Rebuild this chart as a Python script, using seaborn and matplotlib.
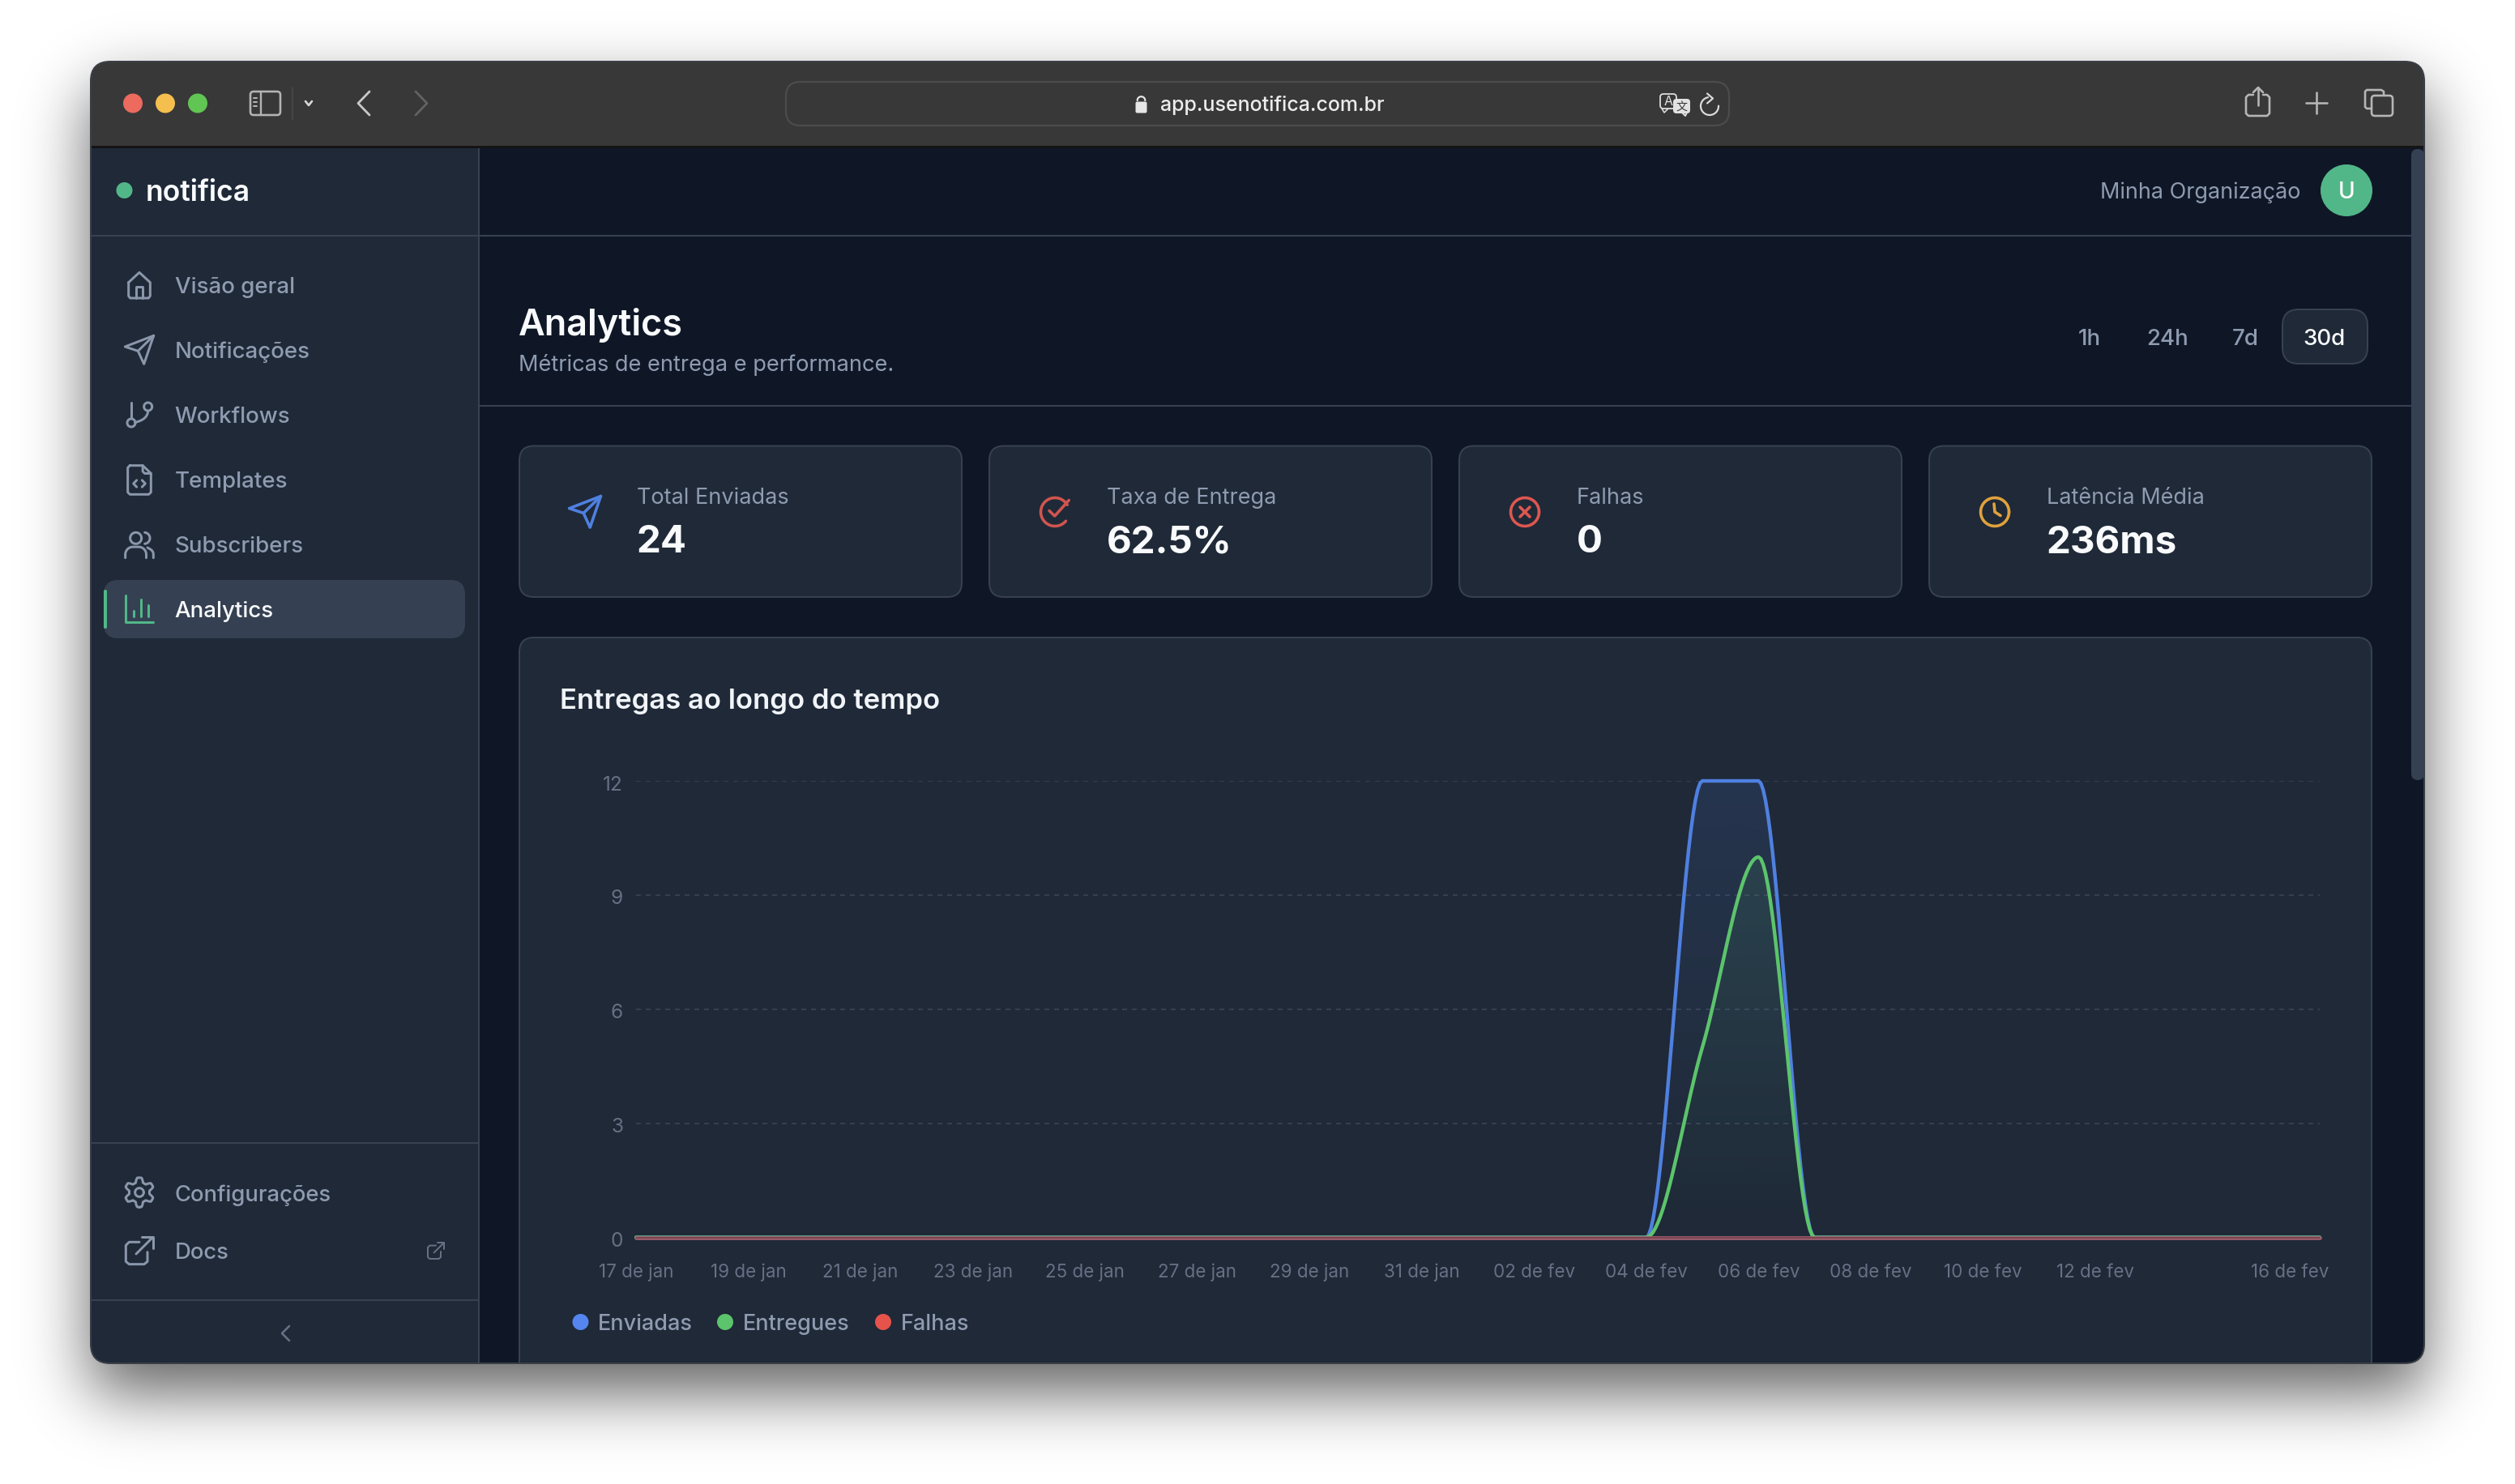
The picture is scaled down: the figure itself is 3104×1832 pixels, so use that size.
import math
import numpy as np
import pandas as pd
import seaborn as sns
import matplotlib
matplotlib.use("Agg")
import matplotlib.pyplot as plt
import matplotlib.patheffects as pe
from matplotlib.patches import FancyBboxPatch, Rectangle, Circle
from matplotlib.transforms import ScaledTranslation

# ---------- data ----------
dias = ["17 de jan","18 de jan","19 de jan","20 de jan","21 de jan","22 de jan","23 de jan","24 de jan",
        "25 de jan","26 de jan","27 de jan","28 de jan","29 de jan","30 de jan","31 de jan","01 de fev",
        "02 de fev","03 de fev","04 de fev","05 de fev","06 de fev","07 de fev","08 de fev","09 de fev",
        "10 de fev","11 de fev","12 de fev","13 de fev","14 de fev","15 de fev","16 de fev"]
enviadas  = [0]*18 + [0, 12, 12, 0] + [0]*9
entregues = [0]*18 + [0, 5, 10, 0] + [0]*9
falhas    = [0]*31
dias_rotulados = [0,2,4,6,8,10,12,14,16,18,20,22,24,26,30]
y_ticks = [0, 3, 6, 9, 12]
nav_items = ["Visão geral","Notificações","Workflows","Templates","Subscribers","Analytics"]
stat_labels = ["Total Enviadas","Taxa de Entrega","Falhas","Latência Média"]
stat_values = ["24","62.5%","0","236ms"]
ranges = ["1h","24h","7d","30d"]
legend_names = ["Enviadas","Entregues","Falhas"]

C_BLUE, C_GREEN, C_RED = "#4f80e0", "#5cc46c", "#e5534b"
SIDEBAR, MAIN, BORDER = "#1f2937", "#0f1727", "#374151"
MUTED, DIM = "#8e9bb0", "#667085"

sns.set_theme(style="dark")
plt.rcParams["font.family"] = ["Inter", "Noto Sans CJK SC", "DejaVu Sans"]
W, H = 3104, 1832
fig = plt.figure(figsize=(W/100, H/100), dpi=100, facecolor="white")
bg = fig.add_axes([0, 0, 1, 1], zorder=0)
bg.set_xlim(0, W); bg.set_ylim(H, 0); bg.axis("off")

PX = 0.72
# ---------- helpers ----------
def T(x, yc, s, px, color=MUTED, weight="normal", ha="left", **kw):
    return bg.text(x, yc + 0.36*px, s, fontsize=px*PX, color=color, fontweight=weight,
                   ha=ha, va="baseline", zorder=kw.pop("zorder", 6), **kw)

def L(pts, color, lw, closed=False, z=6, clip=None):
    pts = list(pts)
    if closed:
        pts = pts + [pts[0]]
    xs, ys = zip(*pts)
    ln, = bg.plot(xs, ys, color=color, lw=lw*PX, solid_capstyle="round",
                  solid_joinstyle="round", zorder=z)
    if clip is not None:
        ln.set_clip_path(clip)
    return ln

def arc(cx, cy, r, a0, a1, n=48):
    return [(cx + r*math.cos(math.radians(a)), cy + r*math.sin(math.radians(a)))
            for a in np.linspace(a0, a1, n)]

def rbox(x0, y0, x1, y1, r, fc, ec="none", lw=0, z=3, clip=None):
    p = FancyBboxPatch((x0+r, y0+r), x1-x0-2*r, y1-y0-2*r, boxstyle=f"round,pad={r},rounding_size={r}",
                       fc=fc, ec=ec, lw=lw*PX, zorder=z)
    bg.add_patch(p)
    if clip is not None:
        p.set_clip_path(clip)
    return p

def icon(cx, cy, s, color, lw, polys=(), closed=(), circles=(), arcs=()):
    u = s/24.0
    m = lambda p: (cx + (p[0]-12)*u, cy + (p[1]-12)*u)
    for p in polys:
        L([m(q) for q in p], color, lw)
    for p in closed:
        L([m(q) for q in p], color, lw, closed=True)
    for (x, y, r) in circles:
        c = m((x, y))
        L(arc(c[0], c[1], r*u, 0, 360), color, lw)
    for (x, y, r, a0, a1) in arcs:
        c = m((x, y))
        L(arc(c[0], c[1], r*u, a0, a1), color, lw)

def quad(p0, p1, p2, n=20):
    return [((1-t)**2*p0[0]+2*t*(1-t)*p1[0]+t*t*p2[0], (1-t)**2*p0[1]+2*t*(1-t)*p1[1]+t*t*p2[1])
            for t in np.linspace(0, 1, n)]

SEND = dict(closed=[[(22.6,1.4),(1.4,9.6),(11,12.8),(15.4,22.4)]], polys=[[(11,12.8),(22.6,1.4)]])

# ---------- shadow ----------
X0, X1, Y0, Y1 = 112, 2992, 76, 1683
erf = np.vectorize(math.erf)
s = 56.0
xx, yy = np.arange(W)+.5, np.arange(H)+.5
ax_ = 0.5*(erf((xx-X0)/s) - erf((xx-X1)/s))
ay_ = 0.5*(erf((yy-(Y0+36))/s) - erf((yy-(Y1+36))/s))
shadow = 1 - 0.62*np.outer(ay_, ax_)
bg.imshow(shadow, cmap="gray", vmin=0, vmax=1, extent=(0, W, H, 0), aspect="auto", zorder=0, interpolation="bilinear")
bg.set_xlim(0, W); bg.set_ylim(H, 0)

# ---------- window ----------
win = FancyBboxPatch((X0+24, Y0+24), X1-X0-48, Y1-Y0-48, boxstyle="round,pad=24,rounding_size=24",
                     fc="#383838", ec="none", zorder=1)
bg.add_patch(win)
def R(x0, y0, x1, y1, fc, z=2):
    p = Rectangle((x0, y0), x1-x0, y1-y0, fc=fc, ec="none", zorder=z)
    bg.add_patch(p); p.set_clip_path(win)
    return p
R(X0, 181, X1, Y1, MAIN)
R(X0, 183, 590, Y1, SIDEBAR)
R(X0, 180, X1, 183, "#141414", z=3)
R(590, 183, 592, Y1, BORDER, z=3)
R(X0, 290, 2976, 292, BORDER, z=3)
R(592, 500, 2976, 502, BORDER, z=3)
R(X0, 1410, 590, 1412, BORDER, z=3)
R(X0, 1604, 590, 1606, BORDER, z=3)
edge = FancyBboxPatch((X0+24, Y0+24), X1-X0-48, Y1-Y0-48, boxstyle="round,pad=24,rounding_size=24",
                      fc="none", ec="#3a3f47", lw=2*PX, zorder=9)
bg.add_patch(edge)
rbox(2976, 184, 2992, 963, 8, "#354152", z=3)

# ---------- safari toolbar ----------
for cx, col in zip((164, 204, 244), ("#ec6a5e", "#f4bf4f", "#61c554")):
    bg.add_patch(Circle((cx, 127.5), 12, fc=col, ec="none", zorder=6))
rbox(309, 113, 346, 142, 4, "none", "#b4b4b4", 2.6, z=6)
L([(322, 113), (322, 142)], "#b4b4b4", 2.4)
for yy_ in (121, 126, 131):
    L([(313, yy_), (317, yy_)], "#b4b4b4", 2)
L([(361, 108), (361, 148)], "#4a4a4a", 1.6)
L([(377, 125), (381, 130), (385, 125)], "#d8d8d8", 2.6)
L([(456, 113), (442, 127.5), (456, 142)], "#c8c8c8", 2.8)
L([(513, 113), (527, 127.5), (513, 142)], "#626262", 2.8)
rbox(970, 101, 2134, 155, 18, "#383838", "#4c4c4c", 2.2, z=4)
T(1570, 128, "app.usenotifica.com.br", 25, "#ececec", "medium", ha="center")
bg.add_patch(FancyBboxPatch((1403, 127), 11, 11, boxstyle="round,pad=1.5,rounding_size=2", fc="#e6e6e6", ec="none", zorder=6))
L(arc(1408.5, 124, 4.8, 180, 360), "#e6e6e6", 2.2)
# translate
rbox(2049, 116, 2069, 134, 4, "#383838", "#dcdcdc", 1.8, z=6)
L([(2051, 134), (2054, 139), (2059, 134)], "#dcdcdc", 1.6)
T(2059, 124.5, "A", 16, "#e0e0e0", ha="center")
rbox(2065, 122, 2086, 140, 4, "#e2e2e2", z=7)
L([(2076, 139), (2080, 143), (2082, 139)], "#e2e2e2", 2, z=7)
T(2075.5, 131, "文", 14, "#383838", ha="center", zorder=8, family=["Noto Sans CJK SC", "DejaVu Sans"])
L(arc(2110, 131, 11, -100, -362), "#dcdcdc", 2.2)
L([(2107, 115.5), (2114, 121.5), (2107, 127.5)], "#dcdcdc", 2.2)
# right toolbar icons
TB = "#b6b6b6"
L([(2781, 117), (2775, 117), (2772, 120), (2772, 140), (2775, 143), (2798, 143), (2801, 140), (2801, 120), (2798, 117), (2793, 117)], TB, 2.6)
L([(2787, 108), (2787, 130)], TB, 2.6)
L([(2781, 114), (2787, 108), (2793, 114)], TB, 2.6)
L([(2846, 127), (2872, 127)], TB, 2.6)
L([(2859, 114), (2859, 140)], TB, 2.6)
L([(2927, 134), (2921, 134), (2919, 132), (2919, 113), (2921, 111), (2939, 111), (2942, 113), (2942, 118)], TB, 2.6)
rbox(2927, 118, 2953, 143, 4, "none", TB, 2.6, z=6)

# ---------- sidebar ----------
bg.add_patch(Circle((153.5, 235), 10, fc="#52b788", ec="none", zorder=6))
T(180, 235, "notifica", 35.5, "#f8fafc", "semibold")
rbox(128, 716, 574, 788, 18, "#354152", z=4)
rbox(128, 728, 132, 776, 2, "#52b788", z=5)
NAV_Y = [352, 432, 512, 592, 672, 752]
for name, y in zip(nav_items, NAV_Y):
    T(215.5, y, name, 27.7, "#f8fafc" if name == "Analytics" else MUTED, "medium")
IC = "#8a97ab"
icon(172, 352, 40, IC, 3, closed=[[(4,10),(12,2.6),(20,10),(20,20),(18.8,21.6),(5.2,21.6),(4,20)]],
     polys=[[(9.4,21.6),(9.4,13.4),(14.6,13.4),(14.6,21.6)]])
icon(172, 432, 40, IC, 3, **SEND)
icon(172, 512, 40, IC, 3, polys=[[(6,3),(6,14.6)], quad((18.4,9.2),(18,15.5),(9,17.6))], circles=[(6,18,3),(18.4,6,3)])
icon(172, 592, 40, IC, 3, closed=[[(5,1.6),(14.5,1.6),(20.6,7.5),(20.6,21.4),(19,23),(5,23),(3.4,21.4),(3.4,3.2)]],
     polys=[[(14.5,1.6),(14.5,6),(16,7.5),(20.6,7.5)], [(10,12.5),(7.6,15),(10,17.5)], [(14,12.5),(16.4,15),(14,17.5)]])
icon(172, 672, 40, IC, 3, circles=[(9.4,7.4,4.2)], arcs=[(15.6,7.4,4.2,-85,85)],
     polys=[[(1.6,22),(1.6,19.5)]+arc(7.2,19.5,5.6,180,270)+[(11.5,13.9)]+arc(11.5,19.5,5.6,-90,0)+[(17.1,22)],
            [(18,14.4)]+arc(18,19.5,4.4,-60,0)+[(22.4,22)]])
icon(172, 752, 40, "#52b788", 3, polys=[[(2,1.6),(2,21.4),(22,21.4)], [(8,13),(8,17.6)], [(13,4.6),(13,17.6)], [(18.4,9),(18.4,17.6)]])
T(215.5, 1473, "Configurações", 27.4, MUTED, "medium")
T(215.5, 1544, "Docs", 27.4, MUTED, "medium")
# gear
ga = np.radians(np.linspace(0, 360, 241))
gr = 9.2 + 1.7*np.clip(1.6*np.cos(6*ga), -1, 1)
icon(172, 1472, 40, IC, 3, closed=[list(zip(12+gr*np.sin(ga), 12+gr*np.cos(ga)))], circles=[(12,12,3.2)])
EXT = dict(polys=[[(12,5.6),(4.4,5.6),(2,8),(2,20),(4.4,22),(15.6,22),(18,20),(18,13)], [(9.6,14.4),(22,2)], [(14,2),(22,2),(22,10)]])
icon(172, 1544, 40, IC, 3, **EXT)
icon(538, 1544, 24, DIM, 2, **EXT)
L([(357, 1637), (348, 1646), (357, 1655)], DIM, 2.6)

# ---------- header ----------
T(2592, 235, "Minha Organização", 27, MUTED, "normal")
bg.add_patch(Circle((2896, 235), 32, fc="#52b788", ec="none", zorder=6))
T(2896, 235, "U", 28, "#ffffff", "medium", ha="center")
T(640, 398, "Analytics", 45, "#f8fafc", "semibold")
T(640, 448, "Métricas de entrega e performance.", 27.2, MUTED)
rbox(2817, 382, 2922, 449, 20, SIDEBAR, BORDER, 2, z=4)
for r_, cx in zip(ranges, (2579, 2675, 2771, 2869)):
    T(cx, 416, r_, 27.7, "#f8fafc" if r_ == "30d" else MUTED, "medium", ha="center")

# ---------- stat cards ----------
CARD_X = [(641, 1187), (1221, 1767), (1801, 2347), (2381, 2927)]
for (x0, x1), lab, val in zip(CARD_X, stat_labels, stat_values):
    rbox(x0, 550.5, x1, 737, 18, SIDEBAR, BORDER, 2, z=3)
    tx = x0 + 145
    T(tx, 612, lab, 27.1, MUTED)
    T(tx, 665, val, 47.5, "#f8fafc", "bold")
icon(722, 632, 44, C_BLUE, 3.6, **SEND)
cc = "#d0554f"
L(arc(1302, 632, 17.5, -30, -320), cc, 3.6)
L([(1295, 630.5), (1301.7, 637), (1319.3, 617.5)], cc, 3.6)
ec_ = "#dd5750"
L(arc(1882, 632, 17.5, 0, 360), ec_, 3.6)
L([(1876, 626), (1888, 638)], ec_, 3.6)
L([(1888, 626), (1876, 638)], ec_, 3.6)
yc_ = "#e0a23c"
L(arc(2462, 632, 17.5, 0, 360), yc_, 3.6)
L([(2461, 622), (2462, 632), (2469, 636.5)], yc_, 3.6)

# ---------- chart card ----------
rbox(641, 787, 2927, 1800, 18, SIDEBAR, BORDER, 2, z=3, clip=win)
T(691, 863, "Entregas ao longo do tempo", 34.7, "#f1f5f9", "semibold")
for name, dx, tx, col in zip(legend_names, (716.5, 895, 1090), (738, 917, 1112), (C_BLUE, C_GREEN, C_RED)):
    bg.add_patch(Circle((dx, 1632), 10, fc="#5585ee" if col == C_BLUE else col, ec="none", zorder=6))
    T(tx, 1632, name, 27, MUTED, "medium")

# ---------- chart ----------
def monotone_curve(values, per_day=24):
    """Smooth (monotone cubic) rendering of the daily values, like the reference's line type."""
    y = np.asarray(values, float)
    sl = np.diff(y)
    t = np.zeros_like(y)
    for i in range(1, len(y)-1):
        p = (sl[i-1] + sl[i]) / 2
        t[i] = (np.sign(sl[i-1]) + np.sign(sl[i])) * min(abs(sl[i-1]), abs(sl[i]), 0.5*abs(p))
    t[0] = (3*sl[0] - t[1]) / 2
    t[-1] = (3*sl[-1] - t[-2]) / 2
    xs, ys = [], []
    for i in range(len(y)-1):
        for u in np.linspace(0, 1, per_day, endpoint=False):
            h00 = 2*u**3 - 3*u**2 + 1; h10 = u**3 - 2*u**2 + u
            h01 = -2*u**3 + 3*u**2;    h11 = u**3 - u**2
            xs.append(i+u); ys.append(h00*y[i] + h10*t[i] + h01*y[i+1] + h11*t[i+1])
    xs.append(len(y)-1.0); ys.append(y[-1])
    return np.array(xs), np.array(ys)

AX0, AX1, AY0, AY12 = 785, 2863, 1527.6, 964
ax = fig.add_axes([AX0/W, 1-AY0/H, (AX1-AX0)/W, (AY0-AY12)/H], zorder=2)
ax.patch.set_alpha(0)
frames = []
for name, vals in zip(legend_names, (enviadas, entregues, falhas)):
    cx_, cy_ = monotone_curve(vals)
    frames.append(pd.DataFrame({"dia": cx_, "valor": cy_, "serie": name}))
df = pd.concat(frames, ignore_index=True)

ax.set_xlim(0, 30); ax.set_ylim(0, 12)
ax.grid(False)
for v in y_ticks[1:]:
    ax.axhline(v, color="#353f4e", lw=2*PX, dashes=(3, 3), zorder=1)

# gradient area fills
for name, col, a_top in zip(legend_names[:2], (C_BLUE, C_GREEN), (0.14, 0.11)):
    d = df[df.serie == name]
    poly = ax.fill_between(d.dia, 0, d.valor, color=col, alpha=0, zorder=2)
    top = d.valor.max()
    g = np.zeros((256, 2, 4))
    g[..., :3] = matplotlib.colors.to_rgb(col)
    g[..., 3] = np.linspace(a_top, 0, 256)[:, None]
    im = ax.imshow(g, extent=(0, 30, 0, top), origin="upper", aspect="auto", zorder=2, interpolation="bilinear")
    im.set_clip_path(poly.get_paths()[0], ax.transData)
ax.set_xlim(0, 30); ax.set_ylim(0, 12)

sns.lineplot(data=df, x="dia", y="valor", hue="serie", hue_order=legend_names,
             palette=[C_BLUE, C_GREEN, "#9c5f6c"], estimator=None, sort=False, legend=False,
             lw=4.4*PX, ax=ax, zorder=4)
for ln in ax.lines[-3:]:
    ln.set_clip_on(False)
    ln.set_solid_joinstyle("round")
red = ax.lines[-1]
red.set_linewidth(4.8*PX)
red.set_path_effects([pe.Normal(), pe.Stroke(linewidth=1.8*PX, foreground="#7a4252")])

ax.set_xlabel(""); ax.set_ylabel("")
for sp in ax.spines.values():
    sp.set_visible(False)
ax.set_yticks(y_ticks)
ax.set_yticklabels([str(v) for v in y_ticks])
ax.set_xticks(dias_rotulados)
ax.set_xticklabels([dias[i] for i in dias_rotulados])
ax.tick_params(axis="both", length=0)
ax.tick_params(axis="x", pad=32*PX, labelsize=22.4*PX, labelcolor=DIM)
ax.tick_params(axis="y", pad=16*PX, labelsize=24.5*PX, labelcolor=DIM)
for lab in ax.get_yticklabels():
    lab.set_transform(lab.get_transform() + ScaledTranslation(0, -2.5/100, fig.dpi_scale_trans))
last = ax.get_xticklabels()[-1]
last.set_transform(last.get_transform() + ScaledTranslation(-37/100, 0, fig.dpi_scale_trans))

fig.savefig("out.png", dpi=100, facecolor="white")
